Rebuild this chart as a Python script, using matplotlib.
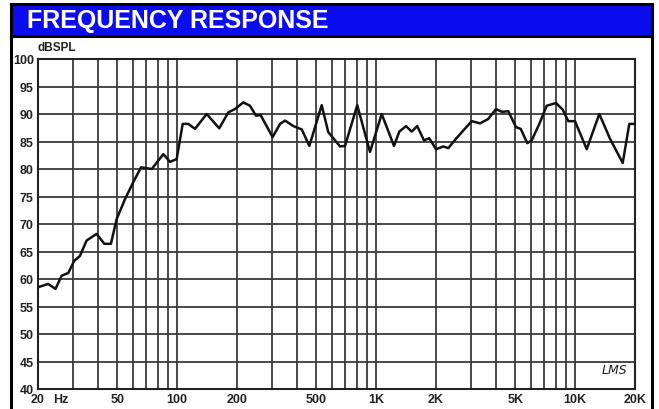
import matplotlib
matplotlib.use('Agg')
import matplotlib.pyplot as plt
from matplotlib.patches import Rectangle
from matplotlib.lines import Line2D

# measured response (Hz, dB SPL)
freqs = [20, 22.5, 24.5, 26.3, 28.4, 30.4, 32.5, 35.1, 39.4, 43.1, 46.5, 49.7,
         54.7, 60.2, 65.9, 74.6, 85.3, 92.1, 99.5, 106.7, 113.8, 123, 140.8,
         162.9, 180.9, 195.4, 215, 232.5, 249, 263, 302, 329, 349, 384, 423,
         462, 533, 575, 659, 698, 804, 932, 1067, 1230, 1308, 1414, 1510, 1610,
         1740, 1850, 2000, 2176, 2306, 2521, 2744, 3022, 3328, 3662, 4004,
         4278, 4618, 5048, 5330, 5752, 6052, 6610, 7200, 8018, 8664, 9244,
         9988, 11438, 13234, 14976, 17350, 18726, 20000]
spl = [58.5, 59.1, 58.2, 60.6, 61.1, 63.3, 64.2, 67.0, 68.2, 66.4, 66.4, 70.9,
       74.5, 77.6, 80.3, 80.0, 82.7, 81.3, 81.8, 88.2, 88.2, 87.3, 90.0,
       87.4, 90.3, 90.9, 92.1, 91.5, 89.7, 89.8, 85.8, 88.2, 88.8, 87.8, 87.2,
       84.2, 91.6, 86.7, 84.1, 84.2, 91.6, 83.1, 90.0, 84.2, 86.8, 87.8, 86.8,
       87.8, 85.2, 85.6, 83.6, 84.1, 83.8, 85.5, 87.0, 88.7, 88.3, 89.1, 90.9,
       90.4, 90.5, 87.6, 87.3, 84.7, 85.2, 88.2, 91.5, 92.0, 90.8, 88.7,
       88.7, 83.6, 90.0, 85.5, 81.1, 88.2, 88.2]

x_grid = [20, 30, 40, 50, 60, 70, 80, 90, 100, 200, 300, 400, 500, 600, 700,
          800, 900, 1000, 2000, 3000, 4000, 5000, 6000, 7000, 8000, 9000,
          10000, 20000]
x_ticks = [20, 50, 100, 200, 500, 1000, 2000, 5000, 10000, 20000]
x_labels = ['20', '50', '100', '200', '500', '1K', '2K', '5K', '10K', '20K']
y_ticks = list(range(40, 101, 5))

plt.rcParams['font.family'] = ['Liberation Sans', 'DejaVu Sans']

W, H = 659, 410
fig = plt.figure(figsize=(W / 100, H / 100), dpi=100)
fig.patch.set_facecolor('white')

# blue title bar and outer frame
fig.add_artist(Rectangle((12 / W, 1 - 36 / H), 640 / W, 30 / H,
                         transform=fig.transFigure, facecolor='#0c0cf0',
                         edgecolor='none'))
frame = dict(transform=fig.transFigure, color='black', lw=2.2)
fig.add_artist(Line2D([11 / W, 11 / W], [0, 1 - 5 / H], **frame))
fig.add_artist(Line2D([652 / W, 652 / W], [0, 1 - 5 / H], **frame))
fig.add_artist(Line2D([11 / W, 652 / W], [1 - 5 / H, 1 - 5 / H], **frame))
fig.add_artist(Line2D([11 / W, 652 / W], [1 - 37 / H, 1 - 37 / H], **frame))
fig.text(27 / W, 1 - 21 / H, 'FREQUENCY RESPONSE', color='white',
         fontsize=18, fontweight='bold', va='center', ha='left')

ax = fig.add_axes([38 / W, 20 / H, 597 / W, 330 / H])
ax.set_xscale('log')
ax.set_xlim(20, 20000)
ax.set_ylim(40, 100)

for f in x_grid:
    ax.axvline(f, color='#3a3a3a', lw=1.3, zorder=1)
for v in y_ticks:
    ax.axhline(v, color='#3a3a3a', lw=1.3, zorder=1)

ax.plot(freqs, spl, color='#111111', lw=1.8, zorder=3)

ax.set_xticks(x_ticks)
ax.set_xticklabels(x_labels)
ax.xaxis.set_minor_locator(matplotlib.ticker.NullLocator())
ax.set_yticks(y_ticks)
ax.tick_params(length=0, labelsize=9, pad=3)
for lab in ax.get_xticklabels() + ax.get_yticklabels():
    lab.set_fontweight('bold')
    lab.set_color('#222222')
ax.annotate('Hz', xy=(26, 0), xycoords=('data', 'axes fraction'),
            xytext=(0, -3), textcoords='offset points', fontsize=9,
            fontweight='bold', color='#222222', ha='center', va='top')

for s in ax.spines.values():
    s.set_color('#222222')
    s.set_linewidth(1.5)

fig.text(38 / W, 1 - 48 / H, 'dBSPL', fontsize=8.5, fontweight='bold',
         color='#222222', va='center', ha='left')
ax.text(0.965, 0.04, 'LMS', transform=ax.transAxes, fontsize=9,
        style='italic', color='#222222', ha='center', va='bottom',
        family='DejaVu Sans')

fig.savefig('out.png', dpi=100)
